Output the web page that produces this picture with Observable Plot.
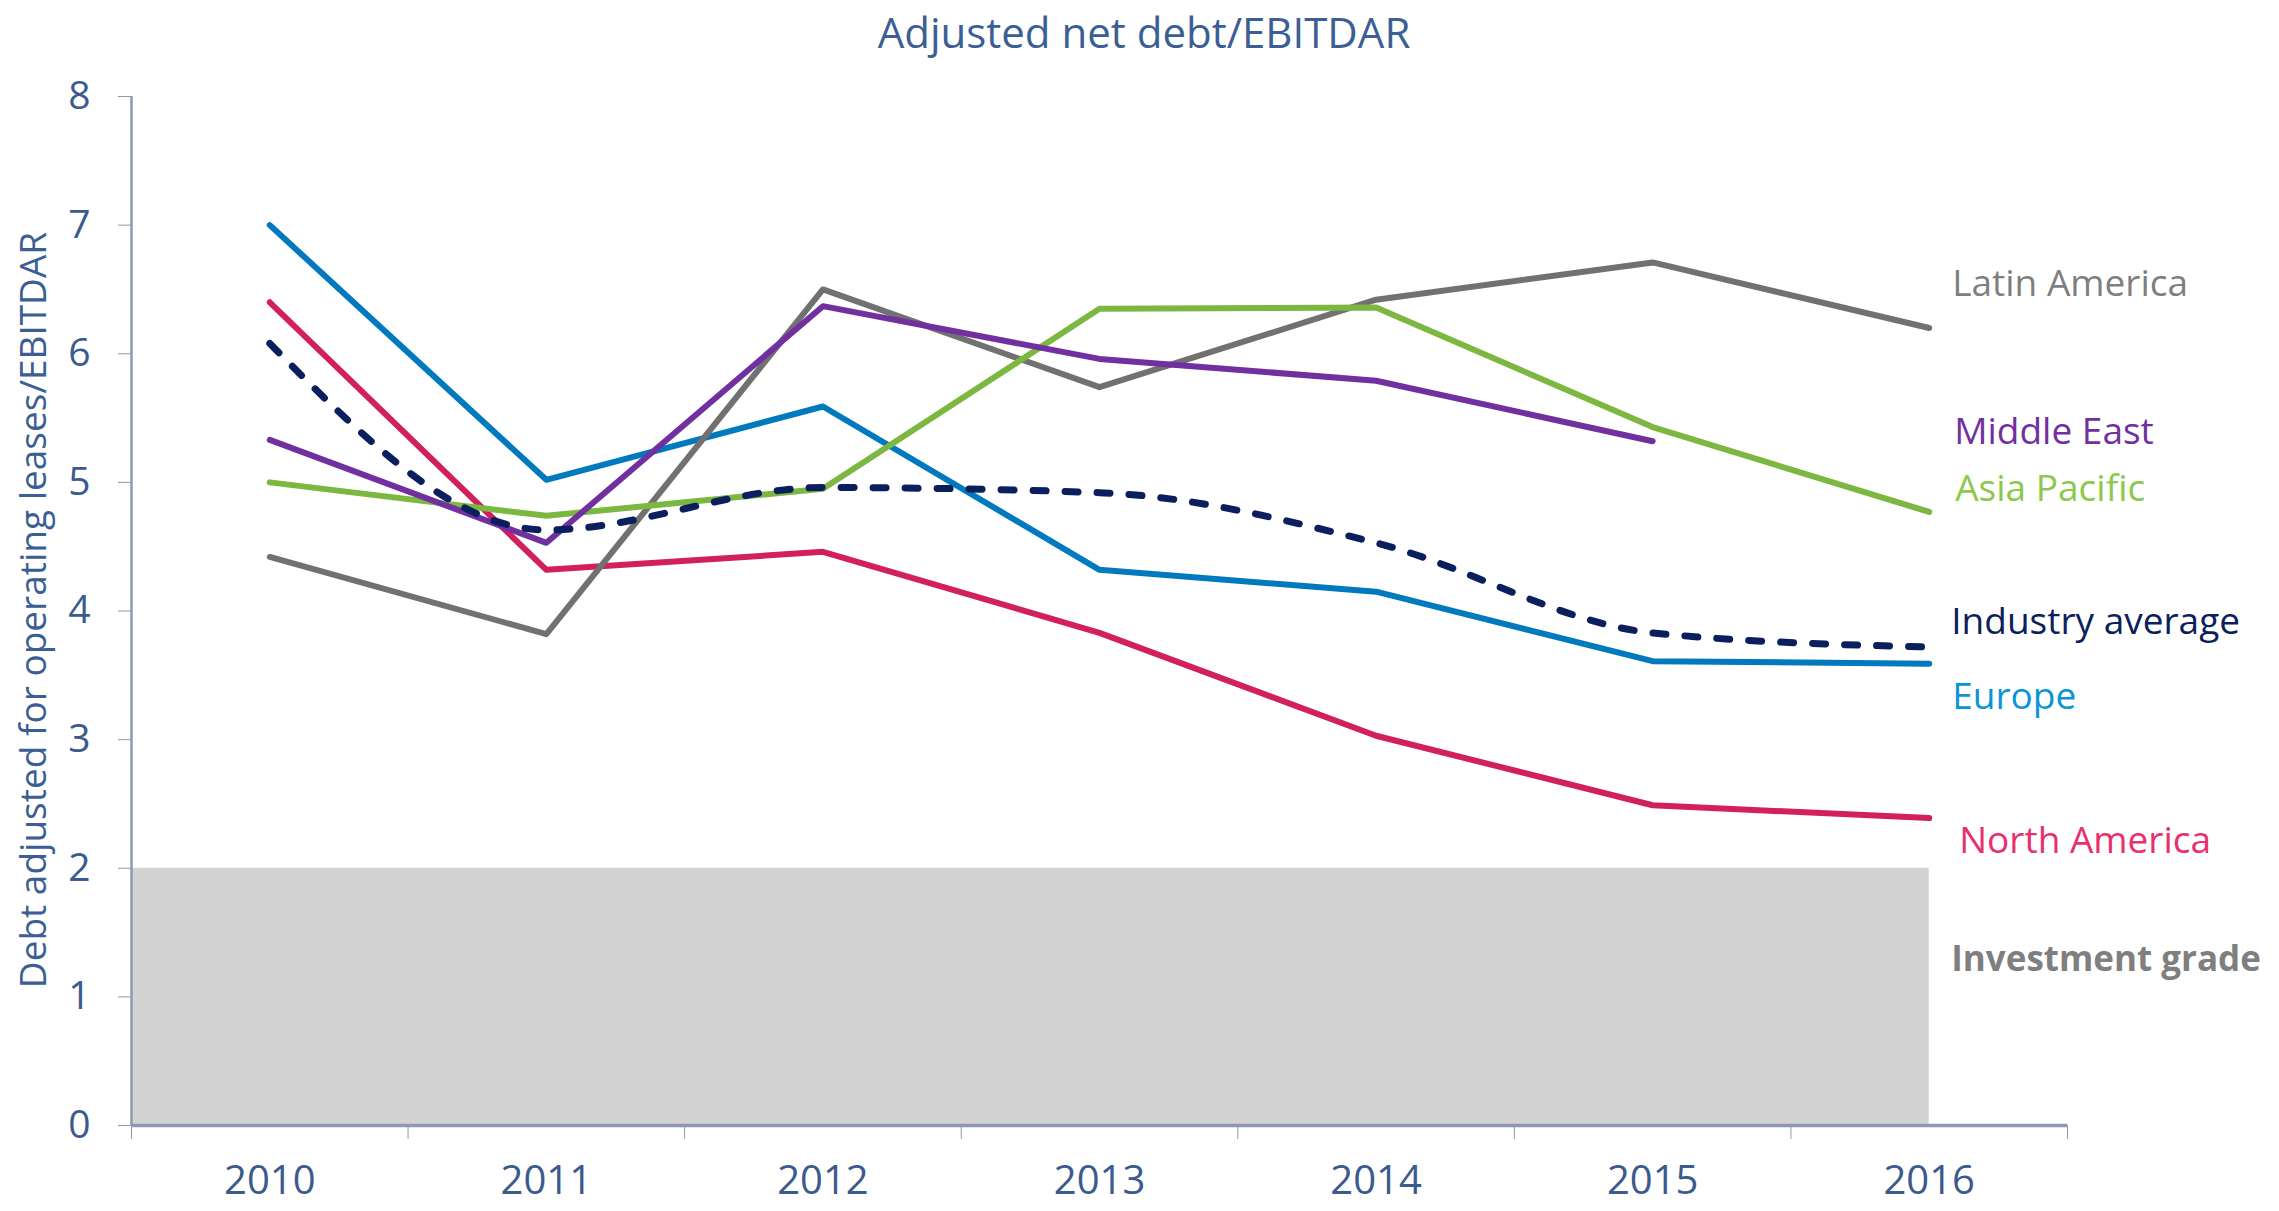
<!DOCTYPE html>
<html>
<head>
<meta charset="utf-8">
<script src="https://cdn.jsdelivr.net/npm/d3@7"></script>
<script src="https://cdn.jsdelivr.net/npm/@observablehq/plot@0.6"></script>
<style>
  html, body { margin: 0; padding: 0; background: #fff; }
  #wrap { position: relative; width: 2279px; height: 1211px; overflow: hidden; }
  #title { position: absolute; left: 0; top: 0; width: 2288px; text-align: center;
           font-family: "Open Sans", sans-serif; font-size: 42px; color: #3b5e94; line-height: 64px; height: 64px; }
  #chart { position: absolute; left: 0; top: 60px; }
</style>
</head>
<body>
<div id="wrap">
  <div id="title">Adjusted net debt/EBITDAR</div>
  <div id="chart"></div>
</div>
<script>
// ---- data ----
const years = [2010, 2011, 2012, 2013, 2014, 2015, 2016];
const seriesNames = ["Europe", "North America", "Latin America", "Asia Pacific", "Middle East", "Industry average"];
const europe        = [7.00, 5.02, 5.59, 4.32, 4.15, 3.61, 3.59];
const northAmerica  = [6.40, 4.32, 4.46, 3.83, 3.03, 2.49, 2.39];
const latinAmerica  = [4.42, 3.82, 6.50, 5.74, 6.42, 6.71, 6.20];
const asiaPacific   = [5.00, 4.74, 4.95, 6.35, 6.36, 5.43, 4.77];
const middleEast    = [5.33, 4.53, 6.37, 5.96, 5.79, 5.32, null];
const industryAvg   = [6.08, 4.63, 4.96, 4.92, 4.53, 3.83, 3.72];
const yTicks = [0, 1, 2, 3, 4, 5, 6, 7, 8];
const investmentGrade = 2;
const investmentLabel = "Investment grade";

// ---- styles ----
const seriesValues = [europe, northAmerica, latinAmerica, asiaPacific, middleEast, industryAvg];
const lineColor = {
  "Europe": "#0079bf", "North America": "#d21f5f", "Latin America": "#717171",
  "Asia Pacific": "#7cb742", "Middle East": "#7030a0", "Industry average": "#0b1f5e"
};
const labelColor = {
  "Europe": "#0b95d6", "North America": "#e8306c", "Latin America": "#7f7f7f",
  "Asia Pacific": "#8cc84b", "Middle East": "#7030a0", "Industry average": "#0b1f5e"
};
const labelOffset = {
  "Latin America": [23, -44], "Middle East": [25, -9], "Asia Pacific": [26, -23],
  "Industry average": [22, -25], "Europe": [23, 33], "North America": [30, 23]
};

const rows = [];
seriesNames.forEach((name, i) => {
  years.forEach((yr, j) => {
    const v = seriesValues[i][j];
    rows.push({series: name, year: yr, value: v == null ? NaN : v});
  });
});
const labels = seriesNames.map((name, i) => {
  const vals = seriesValues[i];
  let k = vals.length - 1;
  while (vals[k] == null) k--;
  return {series: name, year: years[years.length - 1], value: vals[k]};
});

const boundaries = [...years.map(y => y - 0.5), years[years.length - 1] + 0.5];
const axisColor = "#8d99b3";
const tickText = "#3b5a8e";

const marks = [
  Plot.rect([{x1: boundaries[0], x2: years[years.length - 1], y1: 0, y2: investmentGrade}],
    {x1: "x1", x2: "x2", y1: "y1", y2: "y2", fill: "#d3d3d3"}),
  Plot.text([{x: years[years.length - 1], y: investmentGrade / 2}],
    {x: "x", y: "y", text: () => investmentLabel, textAnchor: "start", lineAnchor: "middle",
     dx: 22, dy: -37, fill: "#7f7f7f", fontWeight: "bold", fontSize: 35}),
  Plot.ruleX([boundaries[0]], {stroke: axisColor, strokeWidth: 2.5}),
  Plot.ruleY([0], {stroke: axisColor, strokeWidth: 3.5}),
  Plot.axisY(yTicks, {tickSize: 13, tickPadding: 28, tickFormat: d => String(d), stroke: axisColor, fill: tickText, label: null, fontSize: 39}),
  Plot.axisX(boundaries, {tickSize: 14, tickFormat: () => "", stroke: axisColor, label: null}),
  Plot.axisX(years, {tickSize: 0, tickPadding: 40, tickFormat: d => String(d), fill: tickText, label: null, fontSize: 40})
];
seriesNames.forEach(name => {
  const dashed = name === "Industry average";
  marks.push(Plot.line(rows.filter(r => r.series === name), {
    x: "year", y: "value", stroke: lineColor[name], strokeWidth: dashed ? 7 : 6,
    strokeLinecap: "round", strokeLinejoin: "round",
    curve: dashed ? "monotone-x" : "linear",
    strokeDasharray: dashed ? "13 19" : null
  }));
});
labels.forEach(l => {
  marks.push(Plot.text([l], {
    x: "year", y: "value", text: "series", textAnchor: "start", lineAnchor: "middle",
    dx: labelOffset[l.series][0], dy: labelOffset[l.series][1], fill: labelColor[l.series], fontSize: 37
  }));
});

const chart = Plot.plot({
  width: 2279,
  height: 1151,
  marginTop: 36,
  marginBottom: 86,
  marginLeft: 131,
  marginRight: 212,
  x: {type: "linear", domain: [boundaries[0], boundaries[boundaries.length - 1]]},
  y: {domain: [0, 8]},
  style: {fontFamily: "Open Sans, sans-serif", fontSize: "36px", background: "white", color: tickText},
  marks
});
document.getElementById("chart").appendChild(chart);

// rotated y-axis title
const svg = d3.select(chart);
svg.append("text")
  .attr("transform", "translate(36, 550) rotate(-90)")
  .attr("text-anchor", "middle")
  .attr("dominant-baseline", "middle")
  .attr("fill", "#3b5e94")
  .attr("font-size", 37)
  .attr("font-family", "Open Sans, sans-serif")
  .text("Debt adjusted for operating leases/EBITDAR");
</script>
</body>
</html>
